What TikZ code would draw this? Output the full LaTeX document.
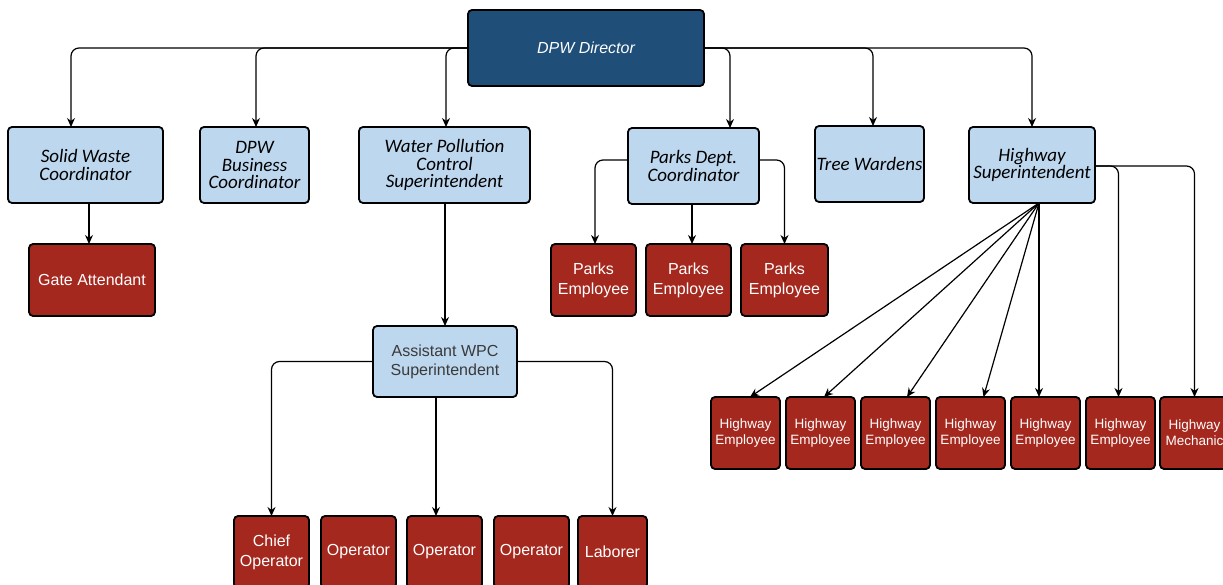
\documentclass[tikz,border=0pt]{standalone}
\usepackage{fontspec}
\setmainfont{Liberation Sans}
\newfontfamily\boxfont{Carlito}
\usetikzlibrary{arrows.meta,positioning}

\definecolor{dirblue}{HTML}{1F4E79}
\definecolor{mgrblue}{HTML}{BDD7EE}
\definecolor{staffred}{HTML}{A5281E}
\definecolor{asstgray}{HTML}{3A3A3A}

\begin{document}
\begin{tikzpicture}[x=1pt,y=-1pt,->,>={Stealth[length=9pt,width=8pt]},
 line width=1.2pt,rounded corners=8pt]
 \tikzstyle{every node}=[draw=black,line width=1.8pt,rounded corners=4pt,
  outer sep=0pt,inner sep=1pt,align=center]
 \tikzstyle{director}=[fill=dirblue,text=white,font=\fontsize{16}{18}\selectfont\itshape,
  minimum width=236pt,minimum height=76pt]
 \tikzstyle{manager}=[fill=mgrblue,font=\boxfont\fontsize{19}{17.5}\selectfont\itshape,
  minimum height=76pt]
 \tikzstyle{staff}=[fill=staffred,text=white,font=\fontsize{16}{20}\selectfont,
  minimum height=72pt]
 \tikzstyle{hwystaff}=[staff,font=\fontsize{13.5}{16}\selectfont,minimum width=69pt]
 \useasboundingbox[draw=none] (0,0) rectangle (1223,585);

 \node[director] (dir) at (586,48) {DPW Director};

 \node[manager,minimum width=155pt] (sw)    at (85.5,165)  {Solid Waste\\Coordinator};
 \node[manager,minimum width=109pt] (biz)   at (254.5,165) {DPW\\Business\\Coordinator};
 \node[manager,minimum width=171pt] (wpc)   at (444.5,165) {Water Pollution\\Control\\Superintendent};
 \node[manager,minimum width=131pt] (parks) at (693.5,166) {Parks Dept.\\Coordinator};
 \node[manager,minimum width=109pt] (tree)  at (869.5,164) {Tree Wardens};
 \node[manager,minimum width=126pt] (hwy)   at (1032,165)  {Highway\\Superintendent};

 \node[staff,minimum width=126pt] (gate) at (92,280) {Gate Attendant};

 \node[staff,minimum width=85pt] (pe1) at (593.5,280)       {Parks\\Employee};
 \node[staff,minimum width=85pt] (pe2) [right=10pt of pe1] {Parks\\Employee};
 \node[staff,minimum width=87pt] (pe3) [right=10pt of pe2] {Parks\\Employee};

 \node[manager,font=\fontsize{16}{19}\selectfont,text=asstgray,minimum width=144pt,
  minimum height=71pt] (asst) at (445,361.5) {Assistant WPC\\Superintendent};

 \node[staff,minimum width=75pt] (chief) at (271.5,552)       {Chief\\Operator};
 \node[staff,minimum width=75pt] (op1) [right=12pt of chief]  {Operator};
 \node[staff,minimum width=75pt] (op2) [right=11pt of op1]    {Operator};
 \node[staff,minimum width=75pt] (op3) [right=12pt of op2]    {Operator};
 \node[staff,minimum width=69pt] (lab) [right=9pt of op3]     {Laborer};

 \node[hwystaff] (he1) at (745.5,433)      {Highway\\Employee};
 \node[hwystaff] (he2) [right=6pt of he1]  {Highway\\Employee};
 \node[hwystaff] (he3) [right=6pt of he2]  {Highway\\Employee};
 \node[hwystaff] (he4) [right=6pt of he3]  {Highway\\Employee};
 \node[hwystaff] (he5) [right=6pt of he4]  {Highway\\Employee};
 \node[hwystaff] (he6) [right=6pt of he5]  {Highway\\Employee};
 \node[hwystaff] (mech) [right=5pt of he6] {Highway\\Mechanic};

 % director to the managers
 \draw (dir.west) -| ([xshift=-14.5pt]sw.north);
 \draw (dir.west) -| ([xshift=1.5pt]biz.north);
 \draw (dir.west) -| ([xshift=1.5pt]wpc.north);
 \draw (dir.east) -| ([xshift=36.5pt]parks.north);
 \draw (dir.east) -| ([xshift=3.5pt]tree.north);
 \draw (dir.east) -| (hwy.north);

 \draw ([xshift=-3pt]gate.north |- sw.south) -- ([xshift=-3pt]gate.north);
 \draw (asst.north |- wpc.south) -- (asst.north);

 % parks
 \draw ([yshift=6pt]parks.west) -| ([xshift=1.5pt]pe1.north);
 \draw ([xshift=3.5pt]pe2.north |- parks.south) -- ([xshift=3.5pt]pe2.north);
 \draw ([yshift=6pt]parks.east) -| (pe3.north);

 % assistant WPC
 \draw (asst.west) -| (chief.north);
 \draw ([xshift=-8.5pt]op2.north |- asst.south) -- ([xshift=-8.5pt]op2.north);
 \draw (asst.east) -| (lab.north);

 % highway
 \coordinate (fan) at ([xshift=7pt]hwy.south);
 \draw (fan) -- ([xshift=4.5pt]he1.north);
 \draw (fan) -- ([xshift=3.5pt]he2.north);
 \draw (fan) -- ([xshift=11.5pt]he3.north);
 \draw (fan) -- ([xshift=13pt]he4.north);
 \draw (fan) -- (fan |- he5.north);
 \draw ([yshift=-1pt]hwy.east) -| ([xshift=-2pt]he6.north);
 \draw ([yshift=-1pt]hwy.east) -| (mech.north);
\end{tikzpicture}
\end{document}
